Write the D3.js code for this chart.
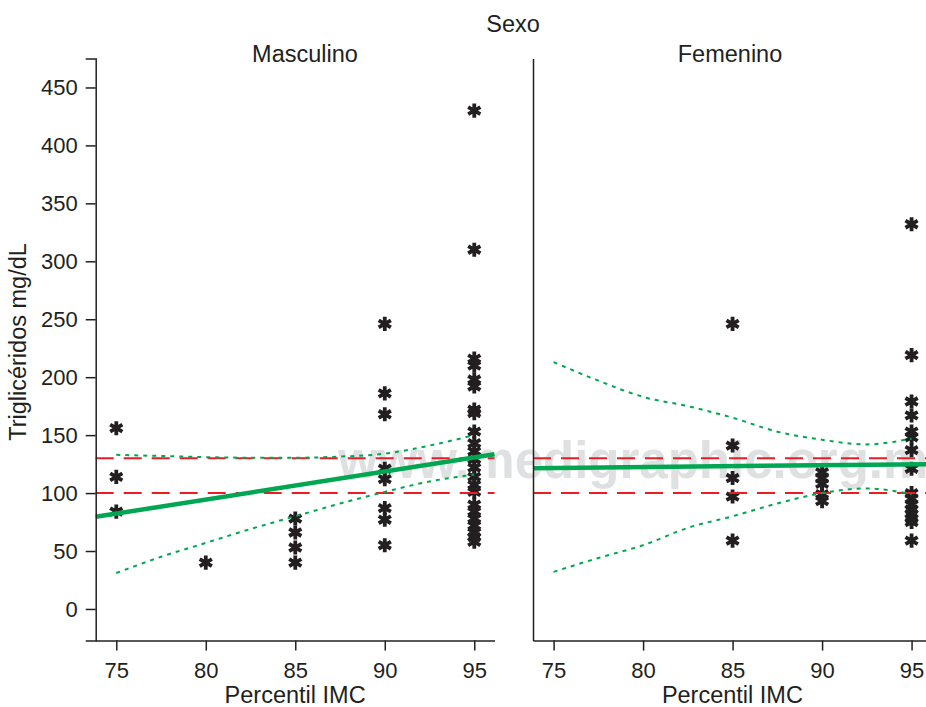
<!DOCTYPE html>
<html>
<head>
<meta charset="utf-8">
<script src="https://cdn.jsdelivr.net/npm/d3@7"></script>
<style>
  body { margin: 0; background: #fff; }
  text { font-family: "Liberation Sans", Arial, sans-serif; fill: #231f20; }
  .axis path, .axis line { stroke: #231f20; stroke-width: 1.5; }
  .axis text { font-size: 22px; }
</style>
</head>
<body>
<script>
(function () {
  "use strict";

  // tick values
  const xTicks = [75, 80, 85, 90, 95];
  const yTicks = [0, 50, 100, 150, 200, 250, 300, 350, 400, 450];
  const panelNames = ["Masculino", "Femenino"];

  // [percentil IMC, trigliceridos]
  const mascPoints = [
    [75, 156], [75, 114], [75, 84],
    [80, 40],
    [85, 78], [85, 66], [85, 53], [85, 40],
    [90, 246], [90, 186], [90, 168], [90, 121], [90, 112], [90, 87], [90, 77], [90, 55],
    [95, 430], [95, 310], [95, 216], [95, 210], [95, 198], [95, 192], [95, 172], [95, 169],
    [95, 153], [95, 143], [95, 136], [95, 129], [95, 122], [95, 114], [95, 107], [95, 101],
    [95, 90], [95, 84], [95, 78], [95, 72], [95, 66], [95, 62], [95, 58]
  ];
  const femPoints = [
    [85, 246], [85, 141], [85, 113], [85, 97], [85, 59],
    [90, 118], [90, 113], [90, 108], [90, 99], [90, 93],
    [95, 332], [95, 219], [95, 179], [95, 167], [95, 153], [95, 148], [95, 137], [95, 121],
    [95, 100], [95, 95], [95, 90], [95, 86], [95, 82], [95, 78], [95, 75], [95, 59]
  ];

  // reference lines (mg/dL)
  const refLines = [100, 130];

  // regression fit, ends at the axis edges
  const mascFit = [[73.85, 79.5], [96.13, 133.5]];
  const femFit = [[73.85, 121.5], [96.13, 125]];

  // confidence band
  const ciX = [75, 77.5, 80, 82.5, 85, 87.5, 90, 92.5, 95];
  const mascUpper = [133, 132, 131, 130.5, 130.5, 131.5, 134, 141, 150];
  const mascLower = [31, 45, 57, 69, 80, 91, 101, 110, 116];
  const femUpper = [213, 197, 183, 175, 165, 153, 146, 142, 147];
  const femLower = [32, 44, 55, 70, 80, 91, 100, 104, 99];

  const width = 926;
  const height = 707;

  const svg = d3
    .select("body")
    .append("svg")
    .attr("width", width)
    .attr("height", height);

  const y = d3.scaleLinear().domain([-27.3, 475]).range([640.6, 58.5]);
  const xDomain = [73.85, 96.13];
  const xScales = [
    d3.scaleLinear().domain(xDomain).range([95.7, 494.5]),
    d3.scaleLinear().domain(xDomain).range([533, 931.8]),
  ];

  // watermark
  svg
    .append("text")
    .attr("x", 338)
    .attr("y", 478)
    .style("font-size", "51px")
    .style("font-weight", "bold")
    .style("fill", "#dfe0e1")
    .text("www.medigraphic.org.mx");

  const panelData = [
    { points: mascPoints, fit: mascFit, upper: mascUpper, lower: mascLower },
    { points: femPoints, fit: femFit, upper: femUpper, lower: femLower },
  ];

  const star = d3.symbol().type(d3.symbolAsterisk).size(140);

  panelData.forEach((p, i) => {
    const x = xScales[i];
    const g = svg.append("g");

    // stars
    g.selectAll(".pt")
      .data(p.points)
      .join("path")
      .attr("class", "pt")
      .attr("d", star)
      .attr("transform", (d) => `translate(${x(d[0])},${y(d[1])})`)
      .attr("fill", "none")
      .attr("stroke", "#231f20")
      .attr("stroke-width", 3.8);

    // red reference lines
    g.selectAll(".ref")
      .data(refLines)
      .join("line")
      .attr("class", "ref")
      .attr("x1", x.range()[0])
      .attr("x2", x.range()[1])
      .attr("y1", (d) => y(d))
      .attr("y2", (d) => y(d))
      .attr("stroke", "#ed1c24")
      .attr("stroke-width", 2)
      .attr("stroke-dasharray", "18,10");

    // confidence band
    const band = d3
      .line()
      .x((d, k) => x(ciX[k]))
      .y((d) => y(d))
      .curve(d3.curveMonotoneX);

    g.selectAll(".ci")
      .data([p.upper, p.lower])
      .join("path")
      .attr("class", "ci")
      .attr("d", band)
      .attr("fill", "none")
      .attr("stroke", "#00a651")
      .attr("stroke-width", 2)
      .attr("stroke-dasharray", "4,5");

    // fit line
    g.append("line")
      .attr("x1", x(p.fit[0][0]))
      .attr("y1", y(p.fit[0][1]))
      .attr("x2", x(p.fit[1][0]))
      .attr("y2", y(p.fit[1][1]))
      .attr("stroke", "#00a651")
      .attr("stroke-width", 4.5);

    // x axis
    svg
      .append("g")
      .attr("class", "axis")
      .attr("transform", `translate(0,${y.range()[0]})`)
      .call(
        d3.axisBottom(x).tickValues(xTicks).tickSize(10).tickSizeOuter(0).tickPadding(12)
      );

    // y axis, labels only on the first panel
    const yAxis = d3.axisLeft(y).tickSizeOuter(0);
    if (i === 0) {
      yAxis.tickValues(yTicks).tickSize(10).tickPadding(8);
    } else {
      yAxis.tickValues([]);
    }
    svg
      .append("g")
      .attr("class", "axis")
      .attr("transform", `translate(${x.range()[0]},0)`)
      .call(yAxis);

    svg
      .append("text")
      .attr("x", (x.range()[0] + x.range()[1]) / 2)
      .attr("y", 703)
      .attr("text-anchor", "middle")
      .style("font-size", "23.5px")
      .text("Percentil IMC");
  });

  // panel titles
  const titleX = [305, 730];
  svg
    .selectAll(".panel-title")
    .data(panelNames)
    .join("text")
    .attr("class", "panel-title")
    .attr("x", (d, i) => titleX[i])
    .attr("y", 62)
    .attr("text-anchor", "middle")
    .style("font-size", "23.5px")
    .text((d) => d);

  svg
    .append("text")
    .attr("x", 513)
    .attr("y", 32)
    .attr("text-anchor", "middle")
    .style("font-size", "23.5px")
    .text("Sexo");

  svg
    .append("text")
    .attr("transform", "translate(26,342) rotate(-90)")
    .attr("text-anchor", "middle")
    .style("font-size", "23.5px")
    .text("Triglicéridos mg/dL");
})();
</script>
</body>
</html>
